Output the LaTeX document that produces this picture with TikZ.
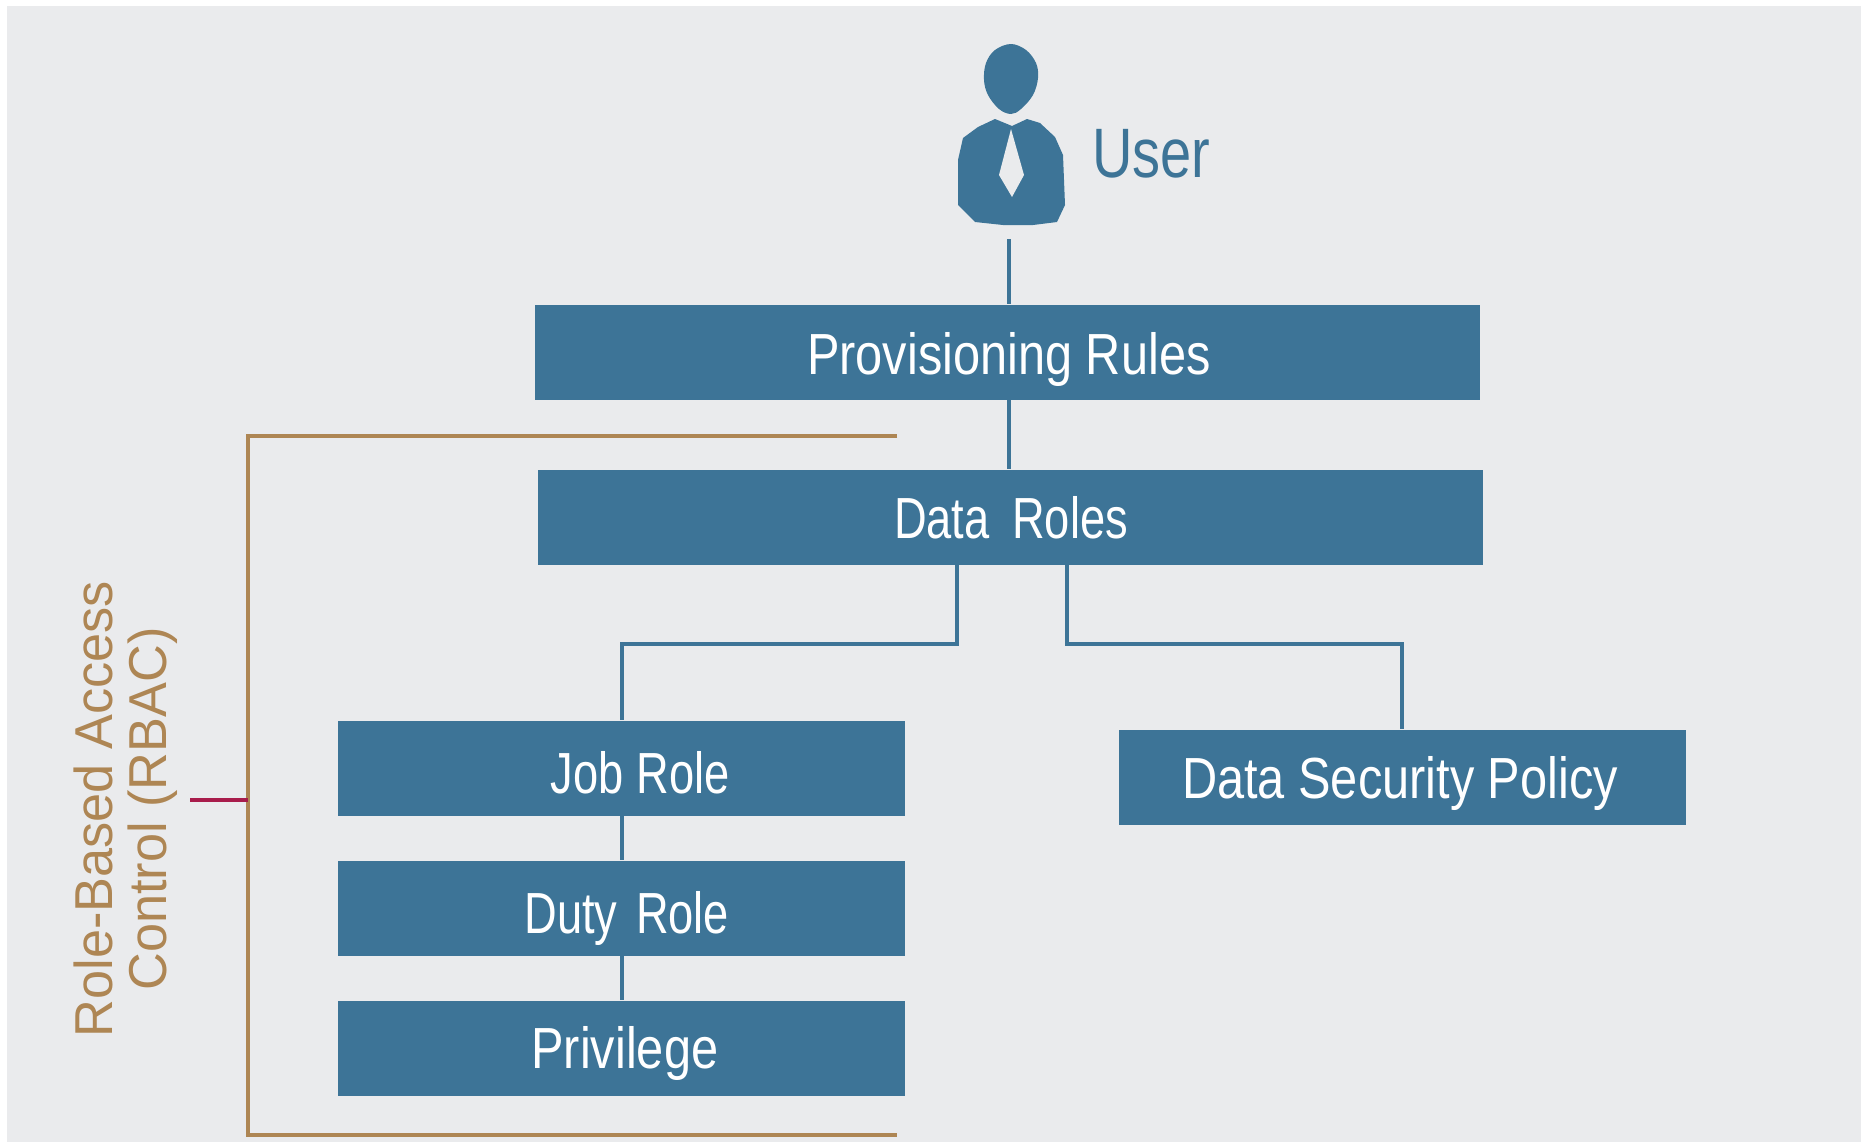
\documentclass[tikz,border=0pt]{standalone}
\usepackage{fontspec}
\setmainfont{Liberation Sans}
\newfontfamily\narrowA[FakeStretch=0.84]{Liberation Sans}
\newfontfamily\narrowB[FakeStretch=0.80]{Liberation Sans}
\newfontfamily\narrowC[FakeStretch=0.98]{Liberation Sans}
\newfontfamily\narrowD[FakeStretch=0.78]{Liberation Sans}
\definecolor{bgc}{HTML}{EAEBED}
\definecolor{blu}{HTML}{3D7497}
\definecolor{tan}{HTML}{AE8654}
\definecolor{crim}{HTML}{A81C4B}
\tikzset{
  px/.style={x=0.75pt,y=-0.75pt},
  rolebox/.style={fill=blu,draw=none,text=white,inner sep=0pt,minimum height=71.25pt,text height=31.5pt,text depth=0pt,font=\narrowA\fontsize{43.5pt}{48pt}\selectfont},
  tightbox/.style={rolebox,font=\narrowD\fontsize{43.5pt}{48pt}\selectfont},
  link/.style={draw=blu,line width=3pt},
  bracket/.style={draw=tan,line width=2.4pt},
  tick/.style={draw=crim,line width=3pt}
}
\begin{document}
\begin{tikzpicture}[px]
\useasboundingbox (0,0) rectangle (1864,1142);
\fill[white] (0,0) rectangle (1864,1142);
\fill[bgc] (7,6) rectangle (1861,1142);
% user icon
\fill[blu] plot[smooth cycle,tension=0.6] coordinates {(1011,44)(1026,50)(1036,63)(1038,78)(1033,95)(1021,109)(1011,114)(999,109)(988,95)(984,80)(986,63)(995,50)};
\fill[blu] plot coordinates {(995,119)(1012,126)(1027,119)(1040,123)(1055,137)(1063,155)(1065,205)(1057,222)(1033,225)(1003,225)(975,222)(958,205)(958,160)(963,138)(978,127)} -- cycle;
\fill[bgc] plot coordinates {(1011,129)(1024,175)(1012,197)(999,175)} -- cycle;
\coordinate (userfoot) at (1009,239);
\node[anchor=base west,inner sep=0pt,text=blu,font=\narrowB\fontsize{52.5pt}{56pt}\selectfont] (user) at (1092,177) {User};
% boxes
\node[rolebox,minimum width=708.75pt] (prov) at (1007.5,352) {\hspace*{2pt}\raisebox{-1.2pt}{Provisioning Rules}};
\node[tightbox,minimum width=708.75pt] (data) at (1010,517) {\hspace*{1.5pt}\raisebox{-0.6pt}{Data\kern7.5pt\ Roles}};
\node[tightbox,minimum width=425.25pt] (job) at (621.5,768) {\hspace*{28pt}\raisebox{-3.6pt}{Job Role}};
\node[tightbox,minimum width=425.25pt] (duty) at (621.5,908) {\hspace*{8pt}\raisebox{-3pt}{Duty\kern4.5pt\ Role}};
\node[rolebox,minimum width=425.25pt] (priv) at (621.5,1048) {\hspace*{5pt}\raisebox{0.7pt}{Privilege}};
\node[rolebox,minimum width=425.25pt] (sec) at (1402,777) {\raisebox{-0.7pt}{Data Security Policy}\hspace*{3pt}};
% connectors
\draw[link] (userfoot) -- (userfoot |- prov.north);
\draw[link] (prov.south -| userfoot) -- (data.north -| userfoot);
\coordinate (dl) at (957,644);
\coordinate (dr) at (1067,644);
\coordinate (jt) at (622,644);
\coordinate (st) at (1402,644);
\draw[link] (dl |- data.south) -- (dl) -- (jt) -- (jt |- job.north);
\draw[link] (dr |- data.south) -- (dr) -- (st) -- (st |- sec.north);
\draw[link] (job.south -| jt) -- (duty.north -| jt);
\draw[link] (duty.south -| jt) -- (priv.north -| jt);
% bracket
\coordinate (bt) at (897,436);
\coordinate (bb) at (897,1135);
\coordinate (bm) at (248,800);
\coordinate (bl) at (190,800);
\draw[bracket] (bt) -- (248,436) -- (248,1135) -- (bb);
\draw[tick] (bl) -- (bm);
\node[rotate=90,inner sep=0pt,align=center,text=tan,font=\narrowC\fontsize{40pt}{40.5pt}\selectfont] (rbac) at (125.5,809) {Role-Based Access\\Control (RBAC)};
\end{tikzpicture}
\end{document}
